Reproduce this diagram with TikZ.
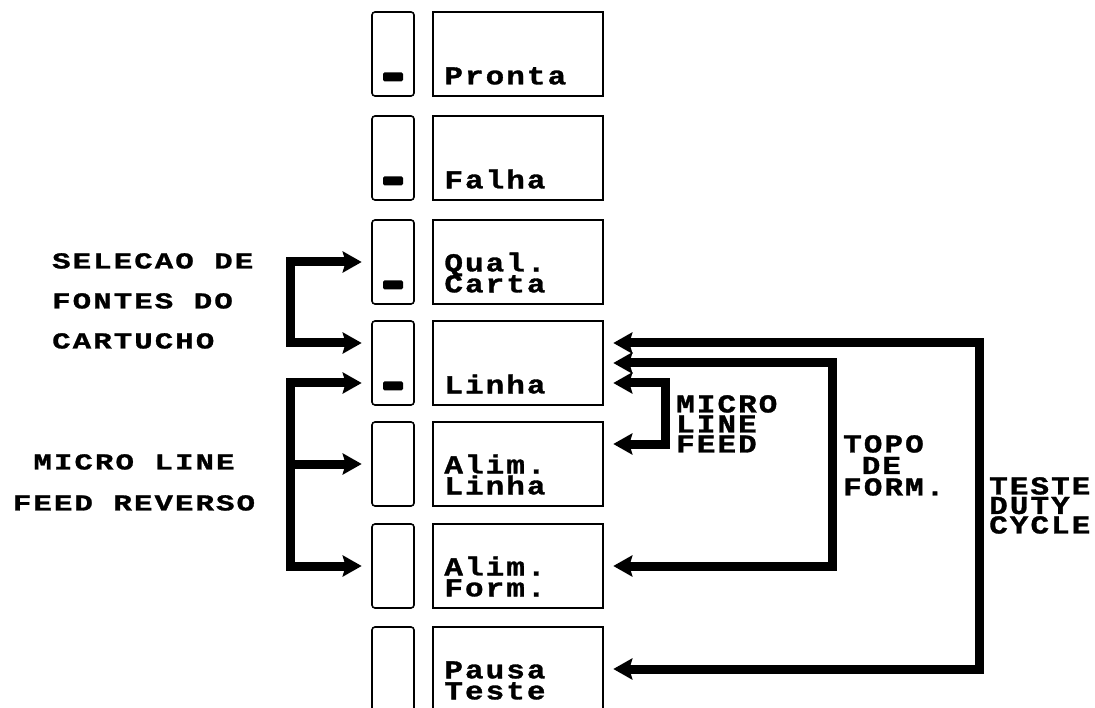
\documentclass[tikz,border=0pt]{standalone}
\usepackage{fontspec}
\usepackage{tikz}
\usetikzlibrary{positioning,arrows.meta,calc}
\newfontfamily\prtfont{Liberation Mono}[FakeStretch=1.2, LetterSpace=8, BoldFeatures={FakeBold=1.2}]
\newfontfamily\lblfont{Liberation Mono}[FakeStretch=1.35, LetterSpace=9, BoldFeatures={FakeBold=1.2}]
\newcommand\prtsize[1]{\prtfont\bfseries\fontsize{25.8}{#1}\selectfont}
\newcommand\lblsize[1]{\lblfont\bfseries\fontsize{22.8}{#1}\selectfont}

\begin{document}
\setlength{\lineskiplimit}{-100pt}
\begin{tikzpicture}[x=1pt, y=-1pt,
  lamp/.style={draw, line width=1.6pt, rounded corners=3pt, inner sep=0pt,
               minimum width=42pt, minimum height=84pt},
  key/.style={draw, line width=1.6pt, inner sep=0pt,
              minimum width=170pt, minimum height=84pt},
  led/.style={fill, rounded corners=1.5pt, inner sep=0pt,
              minimum width=20pt, minimum height=9pt},
  txt/.style={font=\prtsize{#1}, inner sep=0pt, align=left},
  txt/.default=21,
  side/.style={font=\lblsize{#1}, inner sep=0pt, align=left},
  arr/.style={line width=9pt, line join=miter, shorten >=9.5pt,
              -{Stealth[length=19pt, width=21pt, inset=3pt]}},
  arrs/.style={arr, shorten <=9.5pt,
               {Stealth[length=19pt, width=21pt, inset=3pt]}-{Stealth[length=19pt, width=21pt, inset=3pt]}},
]
  \useasboundingbox (0,0) rectangle (1095,708);
  \clip (0,0) rectangle (1095,708);

  % panel keys
  \foreach \n/\y/\lbl in {1/54/Pronta, 2/158/Falha, 3/262/{Qual.\\Carta},
                          4/363/Linha, 5/464/{Alim.\\Linha}, 6/566/{Alim.\\Form.},
                          7/669/{Pausa\\Teste}} {
    \node[lamp] (l\n) at (393,\y) {};
    \node[key]  (k\n) at (518,\y) {};
    \node[txt, anchor=south west] (t\n) at ([xshift=12pt, yshift=12pt]k\n.south west) {\lbl};
  }
  \foreach \n in {1,...,4}
    \node[led] (m\n) at ([yshift=20pt]l\n.south) {};

  % labels
  \node[side=40, anchor=north west] (sel) at (52,253)
    {SELECAO DE\\FONTES DO\\CARTUCHO};
  \node[side=41, anchor=north, align=center] (mlfr) at (134,454)
    {MICRO LINE\\FEED REVERSO};
  \node[txt=20, anchor=north west] (mlf) at (676,395) {MICRO\\LINE\\FEED};
  \node[txt=21.5, anchor=north west] (tdf) at (843,435) {TOPO\\\phantom{T}DE\\FORM.};
  \node[txt=19.5, anchor=north west] (tdc) at (989,477) {TESTE\\DUTY\\CYCLE};

  % left connectors
  \draw[arrs] (l3.west) -- ++(-81,0) |- ([yshift=20pt]l4.west);
  \draw[arrs] ([yshift=-20pt]l4.west) -- ++(-81,0) |- (l6.west);
  \draw[arr] (l5.west) ++(-81,0) -- (l5.west);

  % right connectors
  \draw[arrs] ([yshift=20pt]k4.east) -- ++(376,0) |- (k7.east);
  \draw[arrs] (k4.east) -- ++(229,0) |- (k6.east);
  \draw[arrs] ([yshift=-20pt]k4.east) -- ++(62,0) |- ([yshift=20pt]k5.east);
\end{tikzpicture}
\end{document}
